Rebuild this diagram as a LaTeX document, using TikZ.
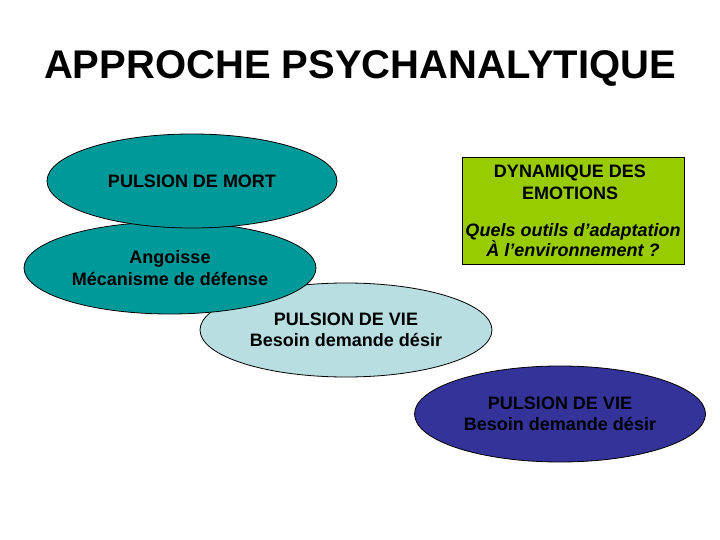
\documentclass[tikz,border=0pt]{standalone}
\usepackage{fontspec}
\setmainfont{Liberation Sans}
\usetikzlibrary{shapes.geometric}
\begin{document}
\begin{tikzpicture}[x=1pt,y=-1pt,font=\bfseries\fontsize{18}{21.6}\selectfont,
    bulle/.style={ellipse,draw=black,line width=0.8pt,inner sep=0pt,align=center}]
  \definecolor{gmort}{HTML}{009999}
  \definecolor{gvie}{HTML}{B8DEE2}
  \definecolor{gviefonce}{HTML}{333399}
  \definecolor{gdyn}{HTML}{99CC00}
  \path[use as bounding box] (0,0) rectangle (720,540);
  \node (titre) at (360,68) {\fontsize{40}{44}\selectfont APPROCHE PSYCHANALYTIQUE};
  % les bulles, de bas en haut
  \foreach \n/\x/\y/\w/\h/\c/\t in {viefonce/560/414/291/96/gviefonce/{PULSION DE VIE\\Besoin demande désir},
                                     vie/346/330/292/94/gvie/{PULSION DE VIE\\Besoin demande désir},
                                     angoisse/170/268/292/92/gmort/{Angoisse\\Mécanisme de défense},
                                     mort/192/181/290/94/gmort/{PULSION DE MORT}}{
    \node[bulle,fill=\c,minimum width=\w,minimum height=\h] (\n) at (\x,\y) {\t};
  }
  \node[draw=black,line width=0.8pt,fill=gdyn,minimum width=222,minimum height=107,
        inner sep=0pt,align=center] (dyn) at (573,210.5) {};
  \node[align=center] (dyntitre) at (570,182.5) {DYNAMIQUE DES\\EMOTIONS};
  \node[align=center,font=\bfseries\itshape\fontsize{18}{20.5}\selectfont] (dynquestion) at (573,240) {Quels outils d’adaptation\\À l’environnement ?};
\end{tikzpicture}
\end{document}
